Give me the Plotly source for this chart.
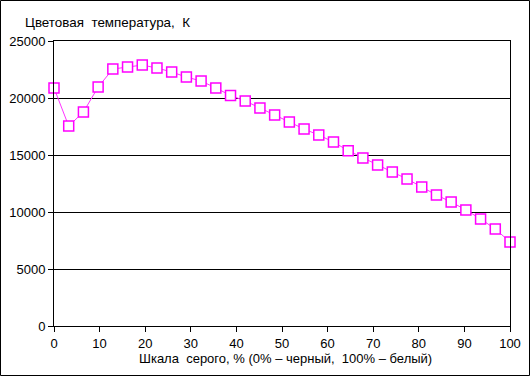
import plotly.graph_objects as go

# Data
gray_pct = [i * 100 / 31 for i in range(32)]
color_temp = [20880, 17540, 18770, 20960, 22540, 22720, 22890, 22630, 22280, 21840,
              21490, 20880, 20230, 19740, 19120, 18510, 17900, 17280, 16750, 16140,
              15380, 14740, 14120, 13510, 12900, 12190, 11490, 10880, 10180, 9390,
              8510, 7370]
x_ticks = [0, 10, 20, 30, 40, 50, 60, 70, 80, 90, 100]
y_ticks = [0, 5000, 10000, 15000, 20000, 25000]
y_tick_text = ["0", "5000", "10000", "15000", "20000", "25000"]

W, H = 531, 377
ML, MR, MT, MB = 54, 21, 41, 51
PW, PH = W - ML - MR, H - MT - MB

FONT = "Liberation Sans, Arial, sans-serif"

fig = go.Figure()
fig.add_trace(go.Scatter(
    x=gray_pct, y=color_temp, mode="lines+markers",
    line=dict(color="#ff33ff", width=1),
    marker=dict(symbol="square", size=10, color="white",
                line=dict(color="#ff00ff", width=1.5)),
    showlegend=False, cliponaxis=False,
))

fig.update_layout(
    width=W, height=H,
    margin=dict(l=ML, r=MR, t=MT, b=MB, pad=0),
    paper_bgcolor="white", plot_bgcolor="white",
    font=dict(family=FONT, size=13, color="black"),
    xaxis=dict(range=[0, 100], tickvals=x_ticks, showgrid=False, zeroline=False,
               showline=True, linecolor="black", linewidth=1, mirror=True,
               ticks="outside", ticklen=5, tickcolor="black", tickwidth=1,
               tickfont=dict(size=13), automargin=False),
    yaxis=dict(range=[0, 25000], tickvals=y_ticks, ticktext=y_tick_text,
               showgrid=True, gridcolor="black", gridwidth=1, zeroline=False,
               showline=True, linecolor="black", linewidth=1, mirror=True,
               ticks="outside", ticklen=5, tickcolor="black", tickwidth=1,
               tickfont=dict(size=13), automargin=False),
    annotations=[
        dict(text="Цветовая  температура,  К", xref="paper", yref="paper",
             x=(23 - ML) / PW, y=(H - MB - 22) / PH, xanchor="left", yanchor="middle",
             showarrow=False, font=dict(size=13.4)),
        dict(text="Шкала  серого, % (0% – черный,  100% – белый)", xref="paper", yref="paper",
             x=0.5 + (285 - (ML + PW / 2)) / PW, y=(H - MB - 358) / PH,
             xanchor="center", yanchor="middle", showarrow=False, font=dict(size=13)),
    ],
    shapes=[
        dict(type="rect", xref="paper", yref="paper",
             x0=(0.5 - ML) / PW, x1=(W - 1.5 - ML) / PW,
             y0=(H - MB - (H - 1.5)) / PH, y1=(H - MB - 0.5) / PH,
             line=dict(color="black", width=1), layer="below"),
    ],
)

fig.write_html("out.html", config={"displayModeBar": False},
               post_script="document.body.style.margin='0';")
